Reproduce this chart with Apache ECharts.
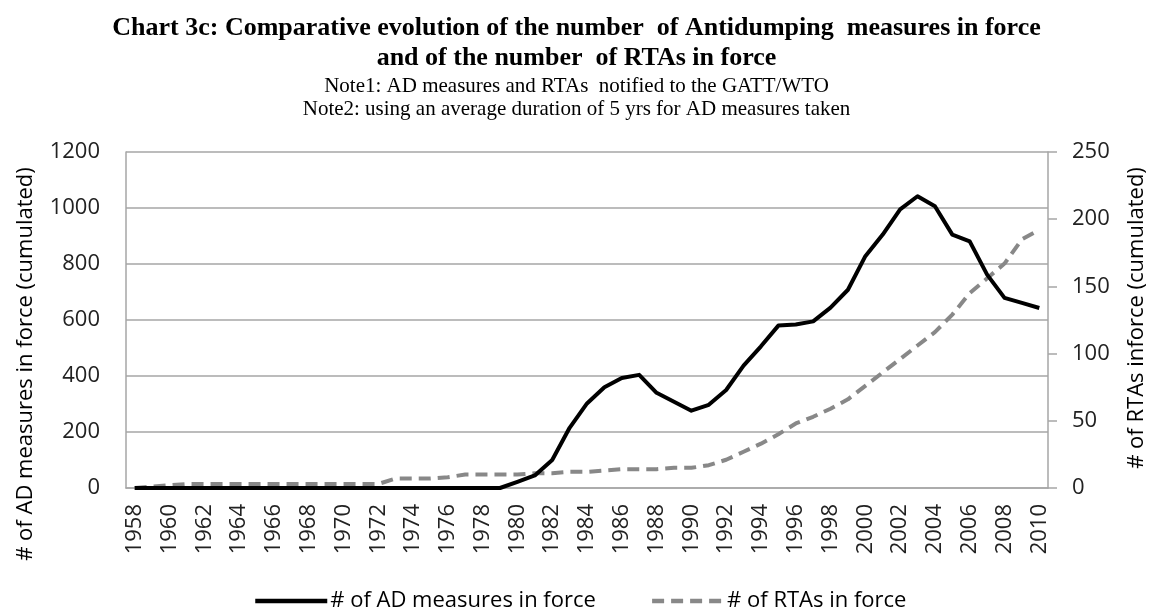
<!DOCTYPE html>
<html>
<head>
<meta charset="utf-8">
<script src="https://cdn.jsdelivr.net/npm/echarts@6/dist/echarts.min.js"></script>
<style>
  html, body { margin: 0; padding: 0; background: #fff; }
  #chart { width: 1153px; height: 611px; }
</style>
</head>
<body>
<div id="chart"></div>
<script>
// years on the category axis
const years = [
  '1958', '1959', '1960', '1961', '1962', '1963', '1964', '1965', '1966', '1967',
  '1968', '1969', '1970', '1971', '1972', '1973', '1974', '1975', '1976', '1977',
  '1978', '1979', '1980', '1981', '1982', '1983', '1984', '1985', '1986', '1987',
  '1988', '1989', '1990', '1991', '1992', '1993', '1994', '1995', '1996', '1997',
  '1998', '1999', '2000', '2001', '2002', '2003', '2004', '2005', '2006', '2007',
  '2008', '2009', '2010'
]
// AD measures in force (left axis)
const adMeasures = [
  0, 0, 0, 0, 0, 0, 0, 0, 0, 0,
  0, 0, 0, 0, 0, 0, 0, 0, 0, 0,
  0, 0, 22, 45, 100, 215, 302, 360, 393, 404,
  340, 308, 276, 297, 350, 437, 506, 580, 584, 595,
  644, 708, 828, 905, 995, 1042, 1006, 905, 881, 762,
  679, 661, 643
]
// RTAs in force (right axis)
const rtas = [
  0, 1, 2, 3, 3, 3, 3, 3, 3, 3,
  3, 3, 3, 3, 3, 7, 7, 7, 8, 10,
  10, 10, 10, 11, 11, 12, 12, 13, 14, 14,
  14, 15, 15, 17, 21, 27, 33, 40, 48, 53,
  59, 66, 76, 86, 96, 106, 116, 129, 145, 156,
  167, 185, 192
]

const leftTicks = { min: 0, max: 1200, interval: 200 }
const rightTicks = { min: 0, max: 250, interval: 50 }

const sans = '"Open Sans", sans-serif'
const serif = '"Liberation Serif", "Times New Roman", serif'
const gridColor = '#a6a6a6'
const plain = v => String(v)

const chart = echarts.init(document.getElementById('chart'))

chart.setOption({
  backgroundColor: '#fff',
  animation: false,
  title: [
    {
      text: 'Chart 3c: Comparative evolution of the number  of Antidumping  measures in force\nand of the number  of RTAs in force',
      left: 'center',
      top: 8,
      textStyle: { fontFamily: serif, fontSize: 26, fontWeight: 'bold', color: '#000', lineHeight: 30 }
    },
    {
      text: 'Note1: AD measures and RTAs  notified to the GATT/WTO\nNote2: using an average duration of 5 yrs for AD measures taken',
      left: 'center',
      top: 70,
      textStyle: { fontFamily: serif, fontSize: 21, fontWeight: 'normal', color: '#000', lineHeight: 23 }
    }
  ],
  graphic: [
    {
      type: 'text', x: 26, y: 364, rotation: Math.PI / 2,
      style: { text: '# of AD measures in force (cumulated)', fontFamily: sans, fontSize: 22, fill: '#000', align: 'center', verticalAlign: 'middle' }
    },
    {
      type: 'text', x: 1137, y: 318, rotation: Math.PI / 2,
      style: { text: '# of RTAs inforce (cumulated)', fontFamily: sans, fontSize: 22, fill: '#000', align: 'center', verticalAlign: 'middle' }
    }
  ],
  legend: {
    left: 248,
    top: 585,
    itemWidth: 72,
    itemHeight: 14,
    itemGap: 54,
    itemStyle: { opacity: 0 },
    lineStyle: { width: 4.5 },
    textStyle: { fontFamily: sans, fontSize: 22, color: '#000', padding: [0, 0, 0, -2] },
    data: ['# of AD measures in force', '# of RTAs in force']
  },
  grid: { left: 126, right: 105, top: 152, bottom: 123, containLabel: false },
  xAxis: {
    type: 'category',
    data: years,
    boundaryGap: true,
    axisLine: { show: true, lineStyle: { color: gridColor, width: 1.5 } },
    axisTick: { show: false },
    axisLabel: { interval: 1, rotate: 90, margin: 16, fontFamily: sans, fontSize: 22, color: '#222' },
    splitLine: { show: false }
  },
  yAxis: [
    {
      type: 'value',
      min: leftTicks.min, max: leftTicks.max, interval: leftTicks.interval,
      axisLine: { show: true, lineStyle: { color: gridColor, width: 1.5 } },
      axisTick: { show: false },
      axisLabel: { margin: 26, fontFamily: sans, fontSize: 22, color: '#222', formatter: plain },
      splitLine: { show: true, lineStyle: { color: gridColor, width: 1.5 } }
    },
    {
      type: 'value',
      position: 'right',
      min: rightTicks.min, max: rightTicks.max, interval: rightTicks.interval,
      axisLine: { show: true, lineStyle: { color: gridColor, width: 1.5 } },
      axisTick: { show: true, inside: false, length: 9, lineStyle: { color: gridColor, width: 1.5 } },
      axisLabel: { margin: 24, fontFamily: sans, fontSize: 22, color: '#222', formatter: plain },
      splitLine: { show: false }
    }
  ],
  series: [
    {
      name: '# of AD measures in force',
      type: 'line',
      yAxisIndex: 0,
      data: adMeasures,
      symbol: 'none',
      showSymbol: false,
      color: '#000',
      lineStyle: { color: '#000', width: 4, join: 'round' },
      z: 3
    },
    {
      name: '# of RTAs in force',
      type: 'line',
      yAxisIndex: 1,
      data: rtas,
      symbol: 'none',
      showSymbol: false,
      color: '#888',
      lineStyle: { color: '#888', width: 4, type: [12, 7], join: 'round' },
      z: 2
    }
  ]
})
</script>
</body>
</html>
